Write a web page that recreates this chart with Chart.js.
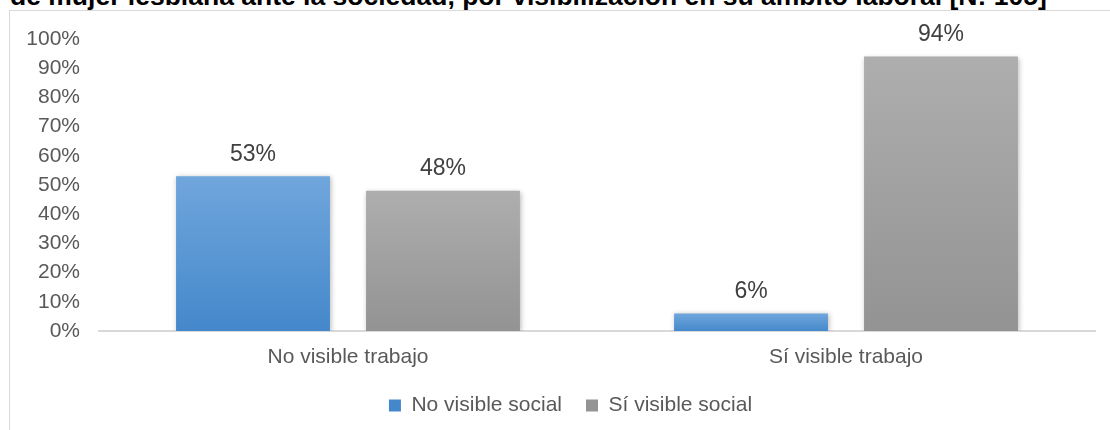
<!DOCTYPE html>
<html>
<head>
<meta charset="utf-8">
<script src="https://cdn.jsdelivr.net/npm/chart.js@4.4.1/dist/chart.umd.min.js"></script>
<style>
  html, body { margin: 0; padding: 0; background: #fff; overflow: hidden; }
  body { width: 1110px; height: 430px; position: relative; font-family: Arial, 'Liberation Sans', sans-serif; }
  #title {
    position: absolute; left: 10px; top: -17px;
    font-weight: bold; font-size: 26.5px; line-height: 26.5px; color: #000; white-space: nowrap;
  }
  #frame {
    position: absolute; left: 9px; top: 10px; width: 1300px; height: 600px;
    border-left: 1px solid #d9d9d9; border-top: 1px solid #d9d9d9; box-sizing: border-box;
  }
  #wrap { position: absolute; left: 0; top: 0; width: 1110px; height: 430px; }
</style>
</head>
<body>
<div id="title">de mujer lesbiana ante la sociedad, por visibilización en su ámbito laboral [N: 105]</div>
<div id="frame"></div>
<div id="wrap"><canvas id="chart"></canvas></div>
<script>
  // Data
  const categories = ['No visible trabajo', 'Sí visible trabajo'];
  const seriesNames = ['No visible social', 'Sí visible social'];
  const noVisibleSocial = [53, 6];
  const siVisibleSocial = [48, 94];
  const yTicks = [0, 10, 20, 30, 40, 50, 60, 70, 80, 90, 100];

  Chart.defaults.font.family = 'Arial, "Liberation Sans", sans-serif';
  Chart.defaults.color = '#595959';

  // vertical gradient per bar, lighter on top
  function barGradient(topColor, bottomColor) {
    return function (ctx) {
      const chart = ctx.chart;
      if (!chart.chartArea || ctx.raw === undefined) return bottomColor;
      const y = chart.scales.y;
      const top = y.getPixelForValue(ctx.raw);
      const bottom = y.getPixelForValue(0);
      const g = chart.ctx.createLinearGradient(0, top, 0, bottom);
      g.addColorStop(0, topColor);
      g.addColorStop(1, bottomColor);
      return g;
    };
  }

  // soft shadow behind bars, then value labels above them
  const barDecor = {
    id: 'barDecor',
    afterLayout(chart) {
      // legend in the original sits a bit right of centre
      if (chart.legend) {
        chart.legend.left += 23;
        chart.legend.right += 23;
      }
    },
    beforeDatasetsDraw(chart) {
      const c = chart.ctx;
      c.save();
      c.shadowColor = 'rgba(0,0,0,0.28)';
      c.shadowBlur = 5;
      c.shadowOffsetX = 1;
      c.shadowOffsetY = 1;
    },
    afterDatasetsDraw(chart) {
      const c = chart.ctx;
      c.restore();
      c.save();
      c.font = '23px Arial, "Liberation Sans", sans-serif';
      c.fillStyle = '#404040';
      c.textAlign = 'center';
      c.textBaseline = 'middle';
      chart.data.datasets.forEach((ds, i) => {
        chart.getDatasetMeta(i).data.forEach((bar, j) => {
          c.fillText(ds.data[j] + '%', bar.x, bar.y - 22);
        });
      });
      c.restore();
    }
  };

  new Chart(document.getElementById('chart'), {
    type: 'bar',
    data: {
      labels: categories,
      datasets: [
        {
          label: seriesNames[0],
          data: noVisibleSocial,
          backgroundColor: barGradient('#70a6dc', '#4488cb'),
          categoryPercentage: 0.763,
          barPercentage: 0.81
        },
        {
          label: seriesNames[1],
          data: siVisibleSocial,
          backgroundColor: barGradient('#aeaeae', '#939393'),
          categoryPercentage: 0.763,
          barPercentage: 0.81
        }
      ]
    },
    plugins: [barDecor],
    options: {
      responsive: true,
      maintainAspectRatio: false,
      animation: false,
      layout: { padding: { top: 39, right: 15, left: 0, bottom: 4 } },
      plugins: {
        legend: {
          position: 'bottom',
          labels: {
            boxWidth: 12,
            boxHeight: 12,
            padding: 24,
            color: '#595959',
            font: { size: 21 }
          }
        },
        tooltip: { enabled: false }
      },
      scales: {
        x: {
          grid: { display: false, drawTicks: false },
          border: { display: true, color: '#d9d9d9', width: 2 },
          ticks: { padding: 14, color: '#595959', font: { size: 21 } },
          afterFit: function (s) { s.height = 40; }
        },
        y: {
          min: 0,
          max: 100,
          afterBuildTicks: function (s) { s.ticks = yTicks.map(v => ({ value: v })); },
          grid: { display: false, drawTicks: false },
          border: { display: false },
          ticks: {
            padding: 19,
            color: '#595959',
            font: { size: 21 },
            callback: function (v) { return v + '%'; }
          },
          afterFit: function (s) { s.width = 99; }
        }
      }
    }
  });
</script>
</body>
</html>
